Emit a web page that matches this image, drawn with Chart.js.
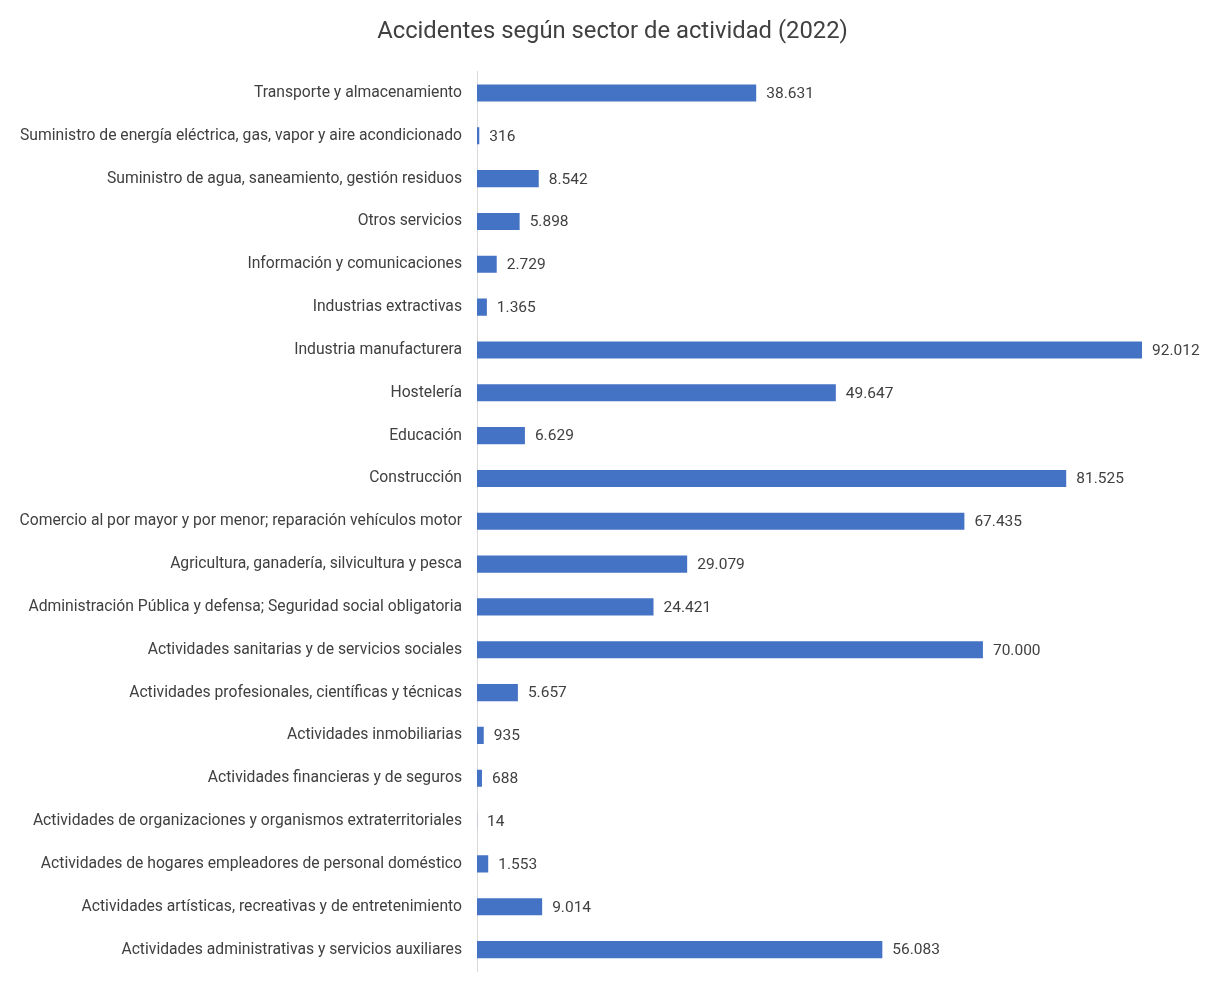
<!DOCTYPE html>
<html>
<head>
<meta charset="utf-8">
<script src="https://cdn.jsdelivr.net/npm/chart.js@4.4.1/dist/chart.umd.min.js"></script>
<style>
  html, body { margin:0; padding:0; background:#fff; }
  #wrap { width:1209px; height:986px; }
</style>
</head>
<body>
<div id="wrap"><canvas id="c"></canvas></div>
<script>
// ─── Data ────────────────────────────────────────────
const TITLE = 'Accidentes según sector de actividad (2022)';

const sectors = [
  'Transporte y almacenamiento',
  'Suministro de energía eléctrica, gas, vapor y aire acondicionado',
  'Suministro de agua, saneamiento, gestión residuos',
  'Otros servicios',
  'Información y comunicaciones',
  'Industrias extractivas',
  'Industria manufacturera',
  'Hostelería',
  'Educación',
  'Construcción',
  'Comercio al por mayor y por menor; reparación vehículos motor',
  'Agricultura, ganadería, silvicultura y pesca',
  'Administración Pública y defensa; Seguridad social obligatoria',
  'Actividades sanitarias y de servicios sociales',
  'Actividades profesionales, científicas y técnicas',
  'Actividades inmobiliarias',
  'Actividades financieras y de seguros',
  'Actividades de organizaciones y organismos extraterritoriales',
  'Actividades de hogares empleadores de personal doméstico',
  'Actividades artísticas, recreativas y de entretenimiento',
  'Actividades administrativas y servicios auxiliares',
];

const accidents = [
  38631, 316, 8542, 5898, 2729, 1365, 92012, 49647, 6629, 81525,
  67435, 29079, 24421, 70000, 5657, 935, 688, 14, 1553, 9014, 56083,
];

// ─── Helpers ─────────────────────────────────────────
const FONT = 'Roboto';
const TEXT = '#404040';

// miles con punto, también para 4 cifras (8.542)
const fmt = v => String(v).replace(/\B(?=(\d{3})+(?!\d))/g, '.');

const valueLabels = {
  id: 'valueLabels',
  afterDatasetsDraw(chart) {
    const { ctx } = chart;
    const meta = chart.getDatasetMeta(0);
    ctx.save();
    ctx.font = `15.5px ${FONT}`;
    ctx.fillStyle = TEXT;
    ctx.textAlign = 'left';
    ctx.textBaseline = 'middle';
    meta.data.forEach((bar, i) => {
      ctx.fillText(fmt(accidents[i]), bar.x + 10, bar.y + 1);
    });
    ctx.restore();
  },
};

new Chart(document.getElementById('c'), {
  type: 'bar',
  data: {
    labels: sectors,
    datasets: [{
      data: accidents,
      backgroundColor: '#4472C4',
      borderWidth: 0,
      barPercentage: 0.4,
      categoryPercentage: 1,
    }],
  },
  options: {
    indexAxis: 'y',
    responsive: true, maintainAspectRatio: false,
    animation: false,
    layout: { padding: { top: 18, right: 0, bottom: 15, left: 16 } },
    plugins: {
      legend: { display: false },
      tooltip: { enabled: false },
      title: {
        display: true, text: TITLE, color: TEXT,
        font: { size: 23.8, family: FONT, weight: 'normal' },
        padding: { top: 0, bottom: 25 },
      },
    },
    scales: {
      x: { display: false, min: 0, max: 101280 },
      y: {
        afterFit: s => { s.width = 461; s.paddingTop = 0; s.paddingBottom = 0; },
        grid: { display: false, drawTicks: false },
        border: { display: true, color: '#d9d9d9', width: 1 },
        ticks: { color: TEXT, padding: 15, autoSkip: false, font: { size: 15.7, family: FONT } },
      },
    },
  },
  plugins: [valueLabels],
});
</script>
</body>
</html>
